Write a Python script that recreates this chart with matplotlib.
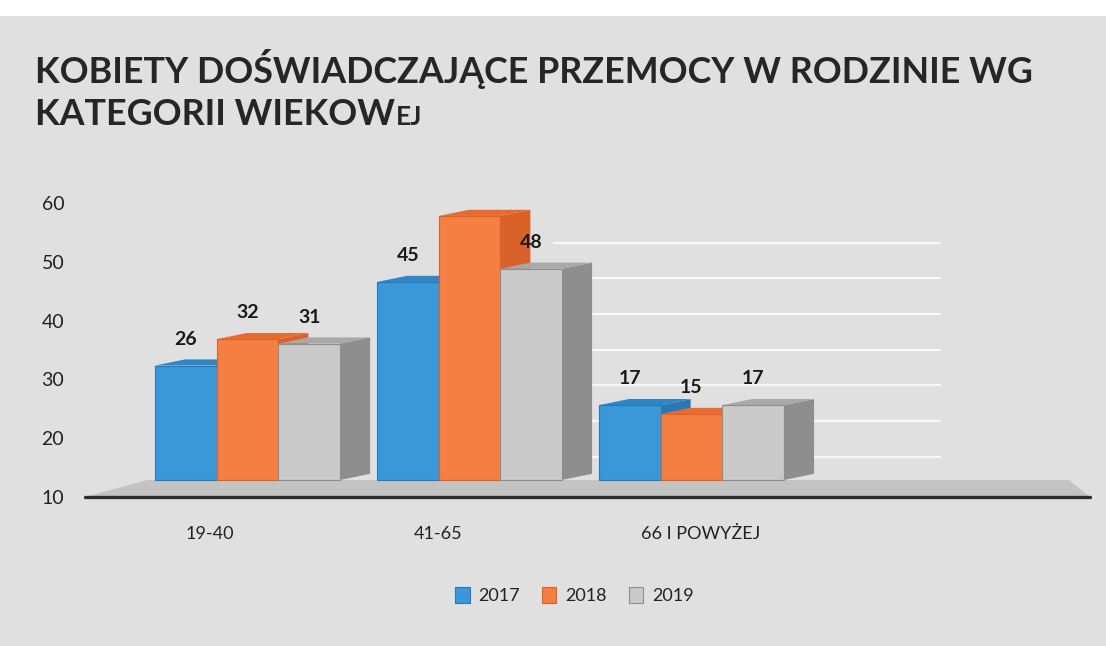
import numpy as np
import matplotlib.pyplot as plt
from matplotlib.patches import Polygon, Rectangle

# chart data
categories = ['19-40', '41-65', '66 I POWYŻEJ']
years = ['2017', '2018', '2019']
values_2017 = [26, 45, 17]
values_2018 = [32, 60, 15]   # 41-65 bar has no printed label, height read off the picture
values_2019 = [31, 48, 17]
show_label = [[True, True, True], [True, False, True], [True, True, True]]  # [category][year]
y_ticks = [10, 20, 30, 40, 50, 60]

front_colors = ['#3a98d8', '#f57f42', '#c9c9c9']
side_colors = ['#2878b8', '#d9612a', '#8e8e8e']
top_colors = ['#2f86c6', '#e86c30', '#a9a9a9']

plt.rcParams['font.family'] = ['Lato', 'DejaVu Sans']

fig = plt.figure(figsize=(11.06, 6.46), dpi=100)
fig.patch.set_facecolor('#e0e0e0')
# white strip of the scanned page at the top
fig.patches.append(Rectangle((0, 0.975), 1, 0.025, transform=fig.transFigure,
                             facecolor='white', edgecolor='none', zorder=0))

# visible axis: 10..60 scale on the left
ax = fig.add_axes([0.0769, 0.2307, 0.9086, 0.4551])
ax.set_facecolor('none')
ax.set_ylim(10, 60)
ax.set_yticks(y_ticks)
ax.tick_params(axis='y', length=0, labelsize=14, pad=15, labelcolor='#222222')
for s in ax.spines.values():
    s.set_visible(False)

# bars drawn on a twin axis (3d chart: bar scale differs from printed axis)
ax2 = ax.twinx()
ax2.set_ylim(-3.86, 62.95)
ax2.set_xlim(-0.732, 3.795)
ax2.set_yticks([])
for s in ax2.spines.values():
    s.set_visible(False)

w = 0.278
dx, dy = 0.135, 1.4
series = [values_2017, values_2018, values_2019]
x = np.arange(len(categories))

# floor
ax2.add_patch(Polygon([[-0.732, -3.86], [3.795, -3.86], [3.7, 0], [-0.45, 0]],
                      closed=True, facecolor='#c3c3c3', edgecolor='none', zorder=1))
# back wall gridlines
for gy in np.arange(5.3, 56, 8.1):
    ax2.plot([1.38, 3.12], [gy, gy], color='white', lw=1.5, alpha=0.8, zorder=1)

for j, vals in enumerate(series):
    xs = x + (j - 1) * w
    bars = ax2.bar(xs, vals, width=w, color=front_colors[j], edgecolor=side_colors[j],
                   linewidth=0.8, zorder=3 + j * 0.1, label=years[j])
    for i, b in enumerate(bars):
        x0, x1, h = b.get_x(), b.get_x() + b.get_width(), b.get_height()
        side = Polygon([[x1, 0], [x1 + dx, dy], [x1 + dx, h + dy], [x1, h]], closed=True,
                       facecolor=side_colors[j], edgecolor='none', zorder=2 + j * 0.1)
        top = Polygon([[x0, h], [x1, h], [x1 + dx, h + dy], [x0 + dx, h + dy]], closed=True,
                      facecolor=top_colors[j], edgecolor='none', zorder=2 + j * 0.1)
        ax2.add_patch(side)
        ax2.add_patch(top)
        if show_label[i][j]:
            ax2.annotate(str(vals[i]), (b.get_x() + w / 2, h), xytext=(0, 13),
                         textcoords='offset points', ha='center', va='bottom',
                         fontsize=14, fontweight='bold', color='#1a1a1a', zorder=5)

# axis line at the front of the floor
ax2.plot([-0.732, 3.795], [-3.86, -3.86], color='#2e2e2e', lw=2.4, zorder=4,
         solid_capstyle='round', clip_on=False)

# category labels (shifted like the 3d perspective in the original)
label_shift = [-0.17, -0.14, 0.04]
ax.set_xticks(x + np.array(label_shift))
ax.set_xticklabels(categories)
ax.tick_params(axis='x', length=0, labelsize=13, pad=21, labelcolor='#222222')
ax.set_xlim(ax2.get_xlim())

leg = ax2.legend(loc='upper center', bbox_to_anchor=(0.487, -0.25), ncol=3, frameon=False,
                 fontsize=13, handlelength=0.8, handleheight=1.0, handletextpad=0.5,
                 columnspacing=1.2)
for t in leg.get_texts():
    t.set_color('#222222')

# title, second line ends with small caps "EJ" as in the original
fig.text(0.032, 0.872, 'KOBIETY DOŚWIADCZAJĄCE PRZEMOCY W RODZINIE WG',
         fontsize=25.8, fontweight='bold', color='#262626', va='baseline')
t2 = fig.text(0.032, 0.806, 'KATEGORII WIEKOW', fontsize=25.8, fontweight='bold',
              color='#262626', va='baseline')
fig.canvas.draw()
bb = t2.get_window_extent()
fig.text(bb.x1 / fig.bbox.width, 0.806, 'EJ', fontsize=19, fontweight='bold',
         color='#262626', va='baseline')

fig.savefig('out.png', dpi=100, facecolor=fig.get_facecolor())
